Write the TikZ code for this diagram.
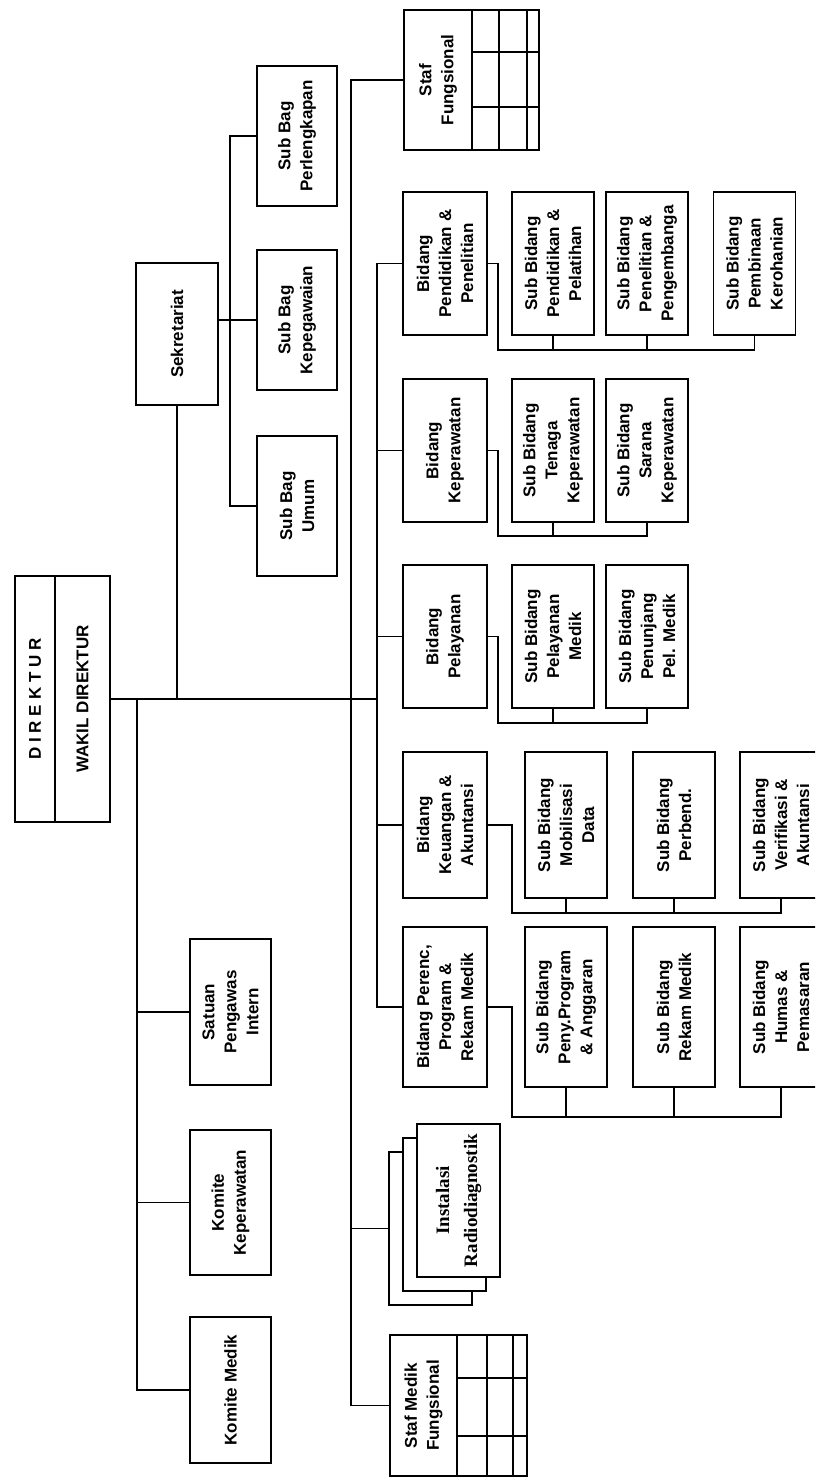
\documentclass[tikz,border=0pt]{standalone}
\usepackage{fontspec}
\setmainfont{Liberation Sans}
\newfontfamily\instfont{Liberation Serif}
\usepackage{tikz}
\usetikzlibrary{calc}

\tikzset{
  box/.style={draw, line width=1.6pt, rotate=90, inner sep=0pt, outer sep=0pt,
    align=center, fill=white},
  txt/.style={font=\bfseries\fontsize{17}{22}\selectfont},
  bidbox/.style={box, txt, minimum height=84pt},
  subbox/.style={box, txt, minimum height=82pt},
  wire/.style={line width=1.6pt},
}

\begin{document}
\begin{tikzpicture}[x=1pt, y=-1pt]
\useasboundingbox (0,0) rectangle (815,1479);
\clip (0,0) rectangle (815,1479);

%% Direktur
\node[box, txt, minimum width=246pt, minimum height=40pt] (direktur) at (35,699) {D I R E K T U R};
\node[box, txt, minimum width=246pt, minimum height=55pt] (wakil) at (82.5,699) {WAKIL DIREKTUR};

%% Sekretariat + sub bag
\node[box, txt, minimum width=142pt, minimum height=82pt] (sek) at (177,334) {Sekretariat};
\foreach \n/\y/\txt in {perl/136/Perlengkapan, kepeg/320/Kepegawaian, umum/506/Umum}
  \node[box, txt, minimum width=140pt, minimum height=80pt] (\n) at (297,\y) {Sub Bag\\\txt};

%% Komite / SPI
\node[box, txt, minimum width=146pt, minimum height=81pt] (spi) at (230.5,1012) {Satuan\\Pengawas\\Intern};
\node[box, txt, minimum width=145pt, minimum height=81pt] (kkep) at (230.5,1202.5) {Komite\\Keperawatan};
\node[box, txt, minimum width=146pt, minimum height=81pt] (kmed) at (230.5,1390) {Komite Medik};

%% Staf fungsional (with grid)
\node[box, txt, minimum width=140pt, minimum height=68pt] (staf) at (438,80) {Staf\\Fungsional};
\draw[wire] (staf.south east) rectangle ++(67,140);
\foreach \dx in {27,55} \draw[wire] ($(staf.south east)+(\dx,0)$) -- ++(0,140);
\foreach \dy in {42,97} \draw[wire] ($(staf.south east)+(0,\dy)$) -- ++(67,0);

\node[box, txt, minimum width=141pt, minimum height=67pt] (smf) at (423.5,1405.5) {Staf Medik\\Fungsional};
\draw[wire] (smf.south east) rectangle ++(70,141);
\foreach \dx in {30,56} \draw[wire] ($(smf.south east)+(\dx,0)$) -- ++(0,141);
\foreach \dy in {43,101} \draw[wire] ($(smf.south east)+(0,\dy)$) -- ++(70,0);

%% Instalasi (stacked)
\node[box, minimum width=153pt, minimum height=83pt] (inst3) at (430.5,1228.5) {};
\node[box, minimum width=153pt, minimum height=83pt] (inst2) at (444.5,1214.5) {};
\node[box, minimum width=153pt, minimum height=83pt,
  font=\instfont\bfseries\fontsize{19}{28}\selectfont] (inst) at (458.5,1200.5) {Instalasi\\Radiodiagnostik};

%% Bidang
\node[bidbox, minimum width=143pt] (pend) at (445,263.5) {Bidang\\Pendidikan \&\\Penelitian};
\node[bidbox, minimum width=143pt] (kep) at (445,450.5) {Bidang\\Keperawatan};
\node[bidbox, minimum width=143pt] (pel) at (445,636.5) {Bidang\\Pelayanan};
\node[bidbox, minimum width=146pt] (keu) at (445,825) {Bidang\\Keuangan \&\\Akuntansi};
\node[bidbox, minimum width=160pt] (rek) at (445,1007) {Bidang Perenc,\\Program \&\\Rekam Medik};

%% Sub bidang
\node[subbox, minimum width=143pt] (ppl) at (553,263.5) {Sub Bidang\\Pendidikan \&\\Pelatihan};
\node[subbox, minimum width=143pt] (ppg) at (647,263.5) {Sub Bidang\\Penelitian \&\\Pengembanga};
\node[subbox, minimum width=143pt] (pkr) at (754.5,263.5) {Sub Bidang\\Pembinaan\\Kerohanian};

\node[subbox, minimum width=143pt] (stk) at (553,450.5) {Sub Bidang\\Tenaga\\Keperawatan};
\node[subbox, minimum width=143pt] (ssk) at (647,450.5) {Sub Bidang\\Sarana\\Keperawatan};

\node[subbox, minimum width=143pt] (spm) at (553,636.5) {Sub Bidang\\Pelayanan\\Medik};
\node[subbox, minimum width=143pt] (spp) at (647,636.5) {Sub Bidang\\Penunjang\\Pel. Medik};

\node[subbox, minimum width=146pt] (smd) at (566,825) {Sub Bidang\\Mobilisasi\\Data};
\node[subbox, minimum width=146pt] (spb) at (674,825) {Sub Bidang\\Perbend.};
\node[subbox, minimum width=146pt] (sva) at (781,825) {Sub Bidang\\Verifikasi \&\\Akuntansi};

\node[subbox, minimum width=160pt] (spa) at (566,1007) {Sub Bidang\\Peny.Program\\\& Anggaran};
\node[subbox, minimum width=160pt] (srm) at (674,1007) {Sub Bidang\\Rekam Medik};
\node[subbox, minimum width=160pt] (shp) at (781,1007) {Sub Bidang\\Humas \&\\Pemasaran};

%% Lines
\coordinate (kbus) at ($(wakil.south)+(27,0)$);
\coordinate (bbus) at ($(pend.north)+(-26,0)$);
\coordinate (trunk) at ($(staf.north)+(-53,0)$);

\draw[wire] (wakil.south) -- (wakil.south -| bbus);
\draw[wire] (sek.west) -- (sek.west |- wakil.south);
\draw[wire] (sek.south |- kepeg.center) -- (kepeg.north);
\draw[wire] (perl.north) -- ++(-27,0) |- (umum.north);

\draw[wire] (kbus) |- (kmed.north);
\foreach \k in {spi,kkep} \draw[wire] (\k.north) -- (\k.north -| kbus);

\draw[wire] (staf.north) -- (trunk) |- (smf.north);
\draw[wire] (inst3.north) -- (inst3.north -| trunk);

\draw[wire] (pend.north) -- (bbus) |- (rek.north);
\foreach \b in {kep,pel,keu} \draw[wire] (\b.north) -- (\b.north -| bbus);

%% Bidang -> sub bidang
\draw[wire] (pend.south) -- ++(11,0) |- ($(pkr.west)+(0,15)$) -- (pkr.west);
\foreach \s in {ppl,ppg} \draw[wire] (\s.west) -- ++(0,15);
\draw[wire] (kep.south) -- ++(11,0) |- ($(ssk.west)+(0,14)$) -- (ssk.west);
\draw[wire] (stk.west) -- ++(0,14);
\draw[wire] (pel.south) -- ++(11,0) |- ($(spp.west)+(0,15)$) -- (spp.west);
\draw[wire] (spm.west) -- ++(0,15);
\draw[wire] (keu.south) -- ++(25,0) |- ($(sva.west)+(0,15)$) -- (sva.west);
\foreach \s in {smd,spb} \draw[wire] (\s.west) -- ++(0,15);
\draw[wire] (rek.south) -- ++(25,0) |- ($(shp.west)+(0,30)$) -- (shp.west);
\foreach \s in {spa,srm} \draw[wire] (\s.west) -- ++(0,30);
\end{tikzpicture}
\end{document}
